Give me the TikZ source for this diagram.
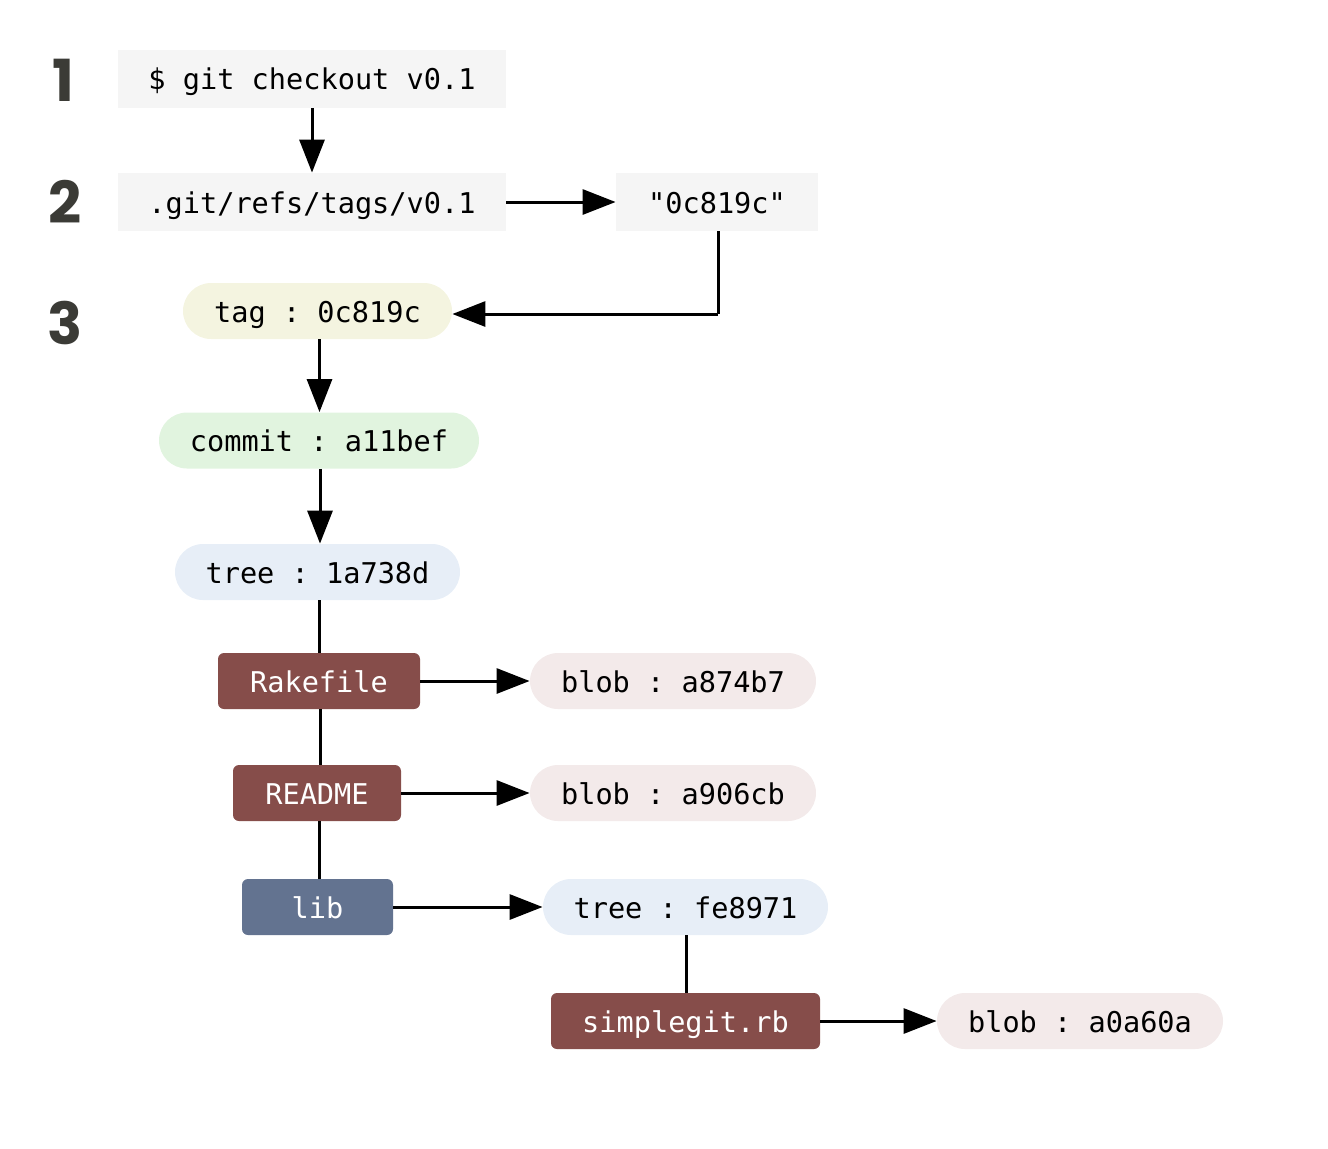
\documentclass[tikz,border=0pt]{standalone}
\usepackage{fontspec}
\setmonofont{DejaVu Sans Mono}
\newfontfamily\numfont{Poppins}
\usetikzlibrary{arrows.meta}
\definecolor{boxgray}{HTML}{F5F5F5}
\definecolor{tagfill}{HTML}{F4F4E0}
\definecolor{commitfill}{HTML}{E1F4DF}
\definecolor{treefill}{HTML}{E7EEF7}
\definecolor{blobfill}{HTML}{F3EAEA}
\definecolor{filebrown}{HTML}{864D4A}
\definecolor{dirslate}{HTML}{637390}
\definecolor{numgray}{HTML}{3B3B36}
\tikzset{
  txt/.style={font=\ttfamily\fontsize{14.3}{16}\selectfont, text height=13pt, text depth=2pt, inner sep=0pt},
  cmdbox/.style={txt, fill=boxgray, minimum height=29pt},
  pill/.style={txt, rounded corners=14pt, minimum height=28pt},
  filebox/.style={txt, fill=filebrown, rounded corners=3pt, minimum height=28pt, text=white},
  dirbox/.style={txt, fill=dirslate, rounded corners=3pt, minimum height=28pt, text=white},
  stepnum/.style={text=numgray, font=\numfont\bfseries\fontsize{29}{32}\selectfont, inner sep=0pt},
  arr/.style={line width=1.5pt, -{Triangle[length=16.5pt,width=12.5pt]}},
  link/.style={line width=1.5pt},
}
\begin{document}
\begin{tikzpicture}[x=0.5pt,y=-0.5pt]
\useasboundingbox (0,0) rectangle (1328,1148);
% step numbers
\node[stepnum] (n1) at (63,80) {1};
\node[stepnum] (n2) at (65,202) {2};
\node[stepnum] (n3) at (65,323) {3};
% nodes
\node[cmdbox, minimum width=194pt] (cmd) at (312,78.5) {\$ git checkout v0.1};
\node[cmdbox, minimum width=194pt] (ref) at (312,202) {.git/refs/tags/v0.1};
\node[cmdbox, minimum width=101pt] (sha) at (717,202) {"0c819c"};
\node[pill, fill=tagfill, minimum width=134.5pt] (tag) at (317.5,311) {tag : 0c819c};
\node[pill, fill=commitfill, minimum width=160pt] (commit) at (319,440.5) {commit : a11bef};
\node[pill, fill=treefill, minimum width=142.5pt] (tree) at (317.5,572) {tree : 1a738d};
\node[filebox, minimum width=101pt] (rake) at (319,681) {Rakefile};
\node[pill, fill=blobfill, minimum width=143pt] (blob1) at (673,681) {blob : a874b7};
\node[filebox, minimum width=84pt] (readme) at (317,793) {README};
\node[pill, fill=blobfill, minimum width=143pt] (blob2) at (673,793) {blob : a906cb};
\node[dirbox, minimum width=75.5pt] (lib) at (317.5,907) {lib};
\node[pill, fill=treefill, minimum width=142.5pt] (tree2) at (685.5,907) {tree : fe8971};
\node[filebox, minimum width=134.5pt] (simple) at (685.5,1021) {simplegit.rb};
\node[pill, fill=blobfill, minimum width=143pt] (blob3) at (1080,1021) {blob : a0a60a};
% connectors
\coordinate (bend) at (718,314);
\draw[arr] (cmd.south) -- (ref.north);
\draw[arr] (ref.east) -- (sha.west);
\draw[link] ([xshift=0.5pt]sha.south) -- (bend);
\draw[arr] (bend) -- (tag.east |- bend);
\draw[arr] ([xshift=1pt]tag.south) -- ([xshift=1pt]tag.south |- commit.north);
\draw[arr] ([xshift=0.5pt]commit.south) -- ([xshift=0.5pt]commit.south |- tree.north);
\draw[link] ([xshift=1pt]tree.south) -- ([xshift=1pt]tree.south |- rake.north);
\draw[arr] (rake.east) -- (blob1.west);
\draw[link] ([xshift=0.5pt]rake.south) -- ([xshift=0.5pt]rake.south |- readme.north);
\draw[arr] (readme.east) -- (blob2.west);
\draw[link] ([xshift=1pt]readme.south) -- ([xshift=1pt]readme.south |- lib.north);
\draw[arr] (lib.east) -- (tree2.west);
\draw[link] ([xshift=0.5pt]tree2.south) -- ([xshift=0.5pt]tree2.south |- simple.north);
\draw[arr] (simple.east) -- (blob3.west);
\end{tikzpicture}
\end{document}
